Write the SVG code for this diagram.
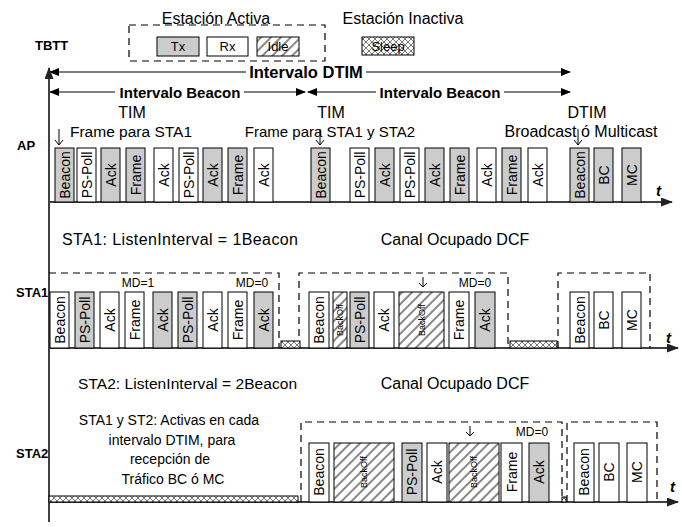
<svg xmlns="http://www.w3.org/2000/svg" width="682" height="527" viewBox="0 0 682 527">
<defs>
<style>
text{font-family:"Liberation Sans",Arial,sans-serif;fill:#000}
.lbl{font-size:15.5px}
.sm{font-size:13px}
.md{font-size:12px;text-anchor:middle}
.bd{font-weight:bold}
.rt{font-size:14px;text-anchor:middle}
.rs{font-size:9px;text-anchor:middle}
.mid{text-anchor:middle}
.bx{stroke:#000;stroke-width:1}
.g{fill:#cccccc}
.w{fill:#fff}
.h{fill:url(#hatch)}
.s{fill:url(#xh)}
.dash{fill:none;stroke:#000;stroke-width:1.2;stroke-dasharray:7 5}
.axis{stroke:#404040;stroke-width:2;fill:none}
.arr{stroke:#000;stroke-width:1.2;fill:none}
.dn{stroke:#000;stroke-width:1;fill:none}
.tt{font-size:15px;font-weight:bold;font-style:italic}
.par{font-size:14px;text-anchor:middle}
</style>
<pattern id="hatch" width="7" height="7" patternUnits="userSpaceOnUse" patternTransform="rotate(45)">
<rect width="7" height="7" fill="#fff"/>
<line x1="1" y1="0" x2="1" y2="7" stroke="#6a6a6a" stroke-width="1.6"/>
</pattern>
<pattern id="xh" width="6" height="6" patternUnits="userSpaceOnUse">
<rect width="6" height="6" fill="#fff"/>
<path d="M0,0 L6,6 M6,0 L0,6" stroke="#555" stroke-width="0.8"/>
</pattern>
<marker id="ah" markerWidth="10" markerHeight="8" refX="9" refY="4" orient="auto-start-reverse" markerUnits="userSpaceOnUse">
<path d="M0,0 L10,4 L0,8 z" fill="#000"/>
</marker>
<marker id="ax" markerWidth="12" markerHeight="9" refX="11" refY="4.5" orient="auto" markerUnits="userSpaceOnUse">
<path d="M0,0 L12,4.5 L0,9 z" fill="#222"/>
</marker>
</defs>
<rect width="682" height="527" fill="#fff"/>

<!-- Legend -->
<g id="legend">
<text class="mid" x="216" y="24" style="font-size:16px">Estación Activa</text>
<text class="mid" x="403" y="24" style="font-size:16px">Estación Inactiva</text>
<rect class="dash" x="129" y="25" width="196" height="36"/>
<rect class="bx g" x="157" y="37" width="42" height="19"/>
<text class="sm mid" x="178" y="51">Tx</text>
<rect class="bx w" x="207" y="37" width="41" height="19"/>
<text class="sm mid" x="227.5" y="51">Rx</text>
<rect class="bx h" x="257" y="37" width="42" height="19"/>
<text class="sm mid" x="278" y="51">Idle</text>
<rect class="bx s" x="362" y="37" width="52" height="18"/>
<text class="sm mid" x="388" y="51">Sleep</text>
<text class="bd" x="35" y="50" style="font-size:13px">TBTT</text>
</g>

<!-- Interval arrows -->
<g id="intervals">
<path class="arr" d="M50,72 H246" marker-start="url(#ah)"/>
<path class="arr" d="M366,72 H570" marker-end="url(#ah)"/>
<text class="bd mid" x="306" y="78" style="font-size:16.5px">Intervalo DTIM</text>
<path class="arr" d="M50,92 H115" marker-start="url(#ah)"/>
<path class="arr" d="M244,92 H305" marker-end="url(#ah)"/>
<text class="bd mid" x="180" y="98" style="font-size:15px">Intervalo Beacon</text>
<path class="arr" d="M308,92 H376" marker-start="url(#ah)"/>
<path class="arr" d="M504,92 H570" marker-end="url(#ah)"/>
<text class="bd mid" x="440" y="98" style="font-size:15px">Intervalo Beacon</text>
</g>

<!-- Axes -->
<g id="axes">
<path class="axis" d="M49,522 V68" marker-end="url(#ax)"/>
<path class="axis" d="M49,202 H672" marker-end="url(#ax)"/>
<path class="axis" d="M49,348 H678" marker-end="url(#ax)"/>
<path class="axis" d="M49,502 H678" marker-end="url(#ax)"/>
<text class="tt" x="656" y="196">t</text>
<text class="tt" x="666" y="343">t</text>
<text class="tt" x="670" y="492">t</text>
</g>

<!-- AP row -->
<g id="ap">
<text class="bd" x="17" y="150" style="font-size:13px">AP</text>
<text class="mid" x="132" y="118" style="font-size:16px">TIM</text>
<text class="lbl mid" x="131" y="137">Frame para STA1</text>
<path class="dn" d="M59,129 V145 M55,140 L59,145 L63,140"/>
<text class="mid" x="331" y="118" style="font-size:16px">TIM</text>
<text class="mid" x="330" y="137" style="font-size:15px">Frame para STA1 y STA2</text>
<path class="dn" d="M320,129 V145 M316,140 L320,145 L324,140"/>
<text class="mid" x="587" y="118" style="font-size:16px">DTIM</text>
<text class="mid" x="581" y="137" style="font-size:16px">Broadcast ó Multicast</text>
<path class="dn" d="M578,129 V145 M574,140 L578,145 L582,140"/>

<rect class="bx g" x="55" y="148" width="19" height="54"/><text class="rt" transform="translate(64.5,175) rotate(-90)" dy="5">Beacon</text>
<rect class="bx w" x="77" y="148" width="19" height="54"/><text class="rt" transform="translate(86.5,175) rotate(-90)" dy="5">PS-Poll</text>
<rect class="bx g" x="101" y="148" width="19" height="54"/><text class="rt" transform="translate(110.5,175) rotate(-90)" dy="5">Ack</text>
<rect class="bx g" x="126" y="148" width="19" height="54"/><text class="rt" transform="translate(135.5,175) rotate(-90)" dy="5">Frame</text>
<rect class="bx w" x="154" y="148" width="19" height="54"/><text class="rt" transform="translate(163.5,175) rotate(-90)" dy="5">Ack</text>
<rect class="bx w" x="179" y="148" width="19" height="54"/><text class="rt" transform="translate(188.5,175) rotate(-90)" dy="5">PS-Poll</text>
<rect class="bx g" x="203" y="148" width="19" height="54"/><text class="rt" transform="translate(212.5,175) rotate(-90)" dy="5">Ack</text>
<rect class="bx g" x="228" y="148" width="19" height="54"/><text class="rt" transform="translate(237.5,175) rotate(-90)" dy="5">Frame</text>
<rect class="bx w" x="254" y="148" width="19" height="54"/><text class="rt" transform="translate(263.5,175) rotate(-90)" dy="5">Ack</text>
<rect class="bx g" x="311" y="148" width="19" height="54"/><text class="rt" transform="translate(320.5,175) rotate(-90)" dy="5">Beacon</text>
<rect class="bx w" x="350" y="148" width="19" height="54"/><text class="rt" transform="translate(359.5,175) rotate(-90)" dy="5">PS-Poll</text>
<rect class="bx g" x="375" y="148" width="19" height="54"/><text class="rt" transform="translate(384.5,175) rotate(-90)" dy="5">Ack</text>
<rect class="bx w" x="400" y="148" width="19" height="54"/><text class="rt" transform="translate(409.5,175) rotate(-90)" dy="5">PS-Poll</text>
<rect class="bx g" x="425" y="148" width="19" height="54"/><text class="rt" transform="translate(434.5,175) rotate(-90)" dy="5">Ack</text>
<rect class="bx g" x="450" y="148" width="19" height="54"/><text class="rt" transform="translate(459.5,175) rotate(-90)" dy="5">Frame</text>
<rect class="bx w" x="477" y="148" width="19" height="54"/><text class="rt" transform="translate(486.5,175) rotate(-90)" dy="5">Ack</text>
<rect class="bx g" x="502" y="148" width="19" height="54"/><text class="rt" transform="translate(511.5,175) rotate(-90)" dy="5">Frame</text>
<rect class="bx w" x="528" y="148" width="19" height="54"/><text class="rt" transform="translate(537.5,175) rotate(-90)" dy="5">Ack</text>
<rect class="bx g" x="570" y="148" width="19" height="54"/><text class="rt" transform="translate(579.5,175) rotate(-90)" dy="5">Beacon</text>
<rect class="bx g" x="594" y="148" width="19" height="54"/><text class="rt" transform="translate(603.5,175) rotate(-90)" dy="5">BC</text>
<rect class="bx g" x="622" y="148" width="19" height="54"/><text class="rt" transform="translate(631.5,175) rotate(-90)" dy="5">MC</text>
</g>

<!-- STA1 row -->
<g id="sta1">
<text x="62" y="245" style="font-size:16px" textLength="236" lengthAdjust="spacing">STA1: ListenInterval = 1Beacon</text>
<text class="mid" x="455" y="245" style="font-size:16px">Canal Ocupado DCF</text>
<text class="bd" x="16" y="297" style="font-size:13px">STA1</text>
<path class="dash" d="M49,273 H279 V348"/>
<path class="dash" d="M299,348 V273 H508 V348"/>
<path class="dash" d="M558,348 V273 H650 V348"/>
<text class="md" x="138" y="287">MD=1</text>
<text class="md" x="252" y="287">MD=0</text>
<text class="md" x="475" y="287">MD=0</text>
<path class="dn" d="M423,277 V287 M419,283 L423,287 L427,283"/>

<rect class="bx w" x="50" y="292" width="19" height="56"/><text class="rt" transform="translate(59.5,320) rotate(-90)" dy="5">Beacon</text>
<rect class="bx g" x="75" y="292" width="19" height="56"/><text class="rt" transform="translate(84.5,320) rotate(-90)" dy="5">PS-Poll</text>
<rect class="bx w" x="100" y="292" width="19" height="56"/><text class="rt" transform="translate(109.5,320) rotate(-90)" dy="5">Ack</text>
<rect class="bx w" x="125" y="292" width="19" height="56"/><text class="rt" transform="translate(134.5,320) rotate(-90)" dy="5">Frame</text>
<rect class="bx g" x="153" y="292" width="19" height="56"/><text class="rt" transform="translate(162.5,320) rotate(-90)" dy="5">Ack</text>
<rect class="bx g" x="178" y="292" width="19" height="56"/><text class="rt" transform="translate(187.5,320) rotate(-90)" dy="5">PS-Poll</text>
<rect class="bx w" x="203" y="292" width="19" height="56"/><text class="rt" transform="translate(212.5,320) rotate(-90)" dy="5">Ack</text>
<rect class="bx w" x="228" y="292" width="19" height="56"/><text class="rt" transform="translate(237.5,320) rotate(-90)" dy="5">Frame</text>
<rect class="bx g" x="254" y="292" width="19" height="56"/><text class="rt" transform="translate(263.5,320) rotate(-90)" dy="5">Ack</text>
<rect class="bx s" x="281" y="341" width="19" height="7"/>
<rect class="bx w" x="309" y="292" width="20" height="56"/><text class="rt" transform="translate(319,320) rotate(-90)" dy="5">Beacon</text>
<rect class="bx h" x="333" y="292" width="14" height="56"/><text class="rs" transform="translate(340,320) rotate(-90)" dy="3">BackOff</text>
<rect class="bx g" x="350" y="292" width="19" height="56"/><text class="rt" transform="translate(359.5,320) rotate(-90)" dy="5">PS-Poll</text>
<rect class="bx w" x="374" y="292" width="20" height="56"/><text class="rt" transform="translate(384,320) rotate(-90)" dy="5">Ack</text>
<rect class="bx h" x="399" y="292" width="45" height="56"/><text class="rs" transform="translate(421.5,320) rotate(-90)" dy="3">BackOff</text>
<rect class="bx w" x="449" y="292" width="20" height="56"/><text class="rt" transform="translate(459,320) rotate(-90)" dy="5">Frame</text>
<rect class="bx g" x="475" y="292" width="20" height="56"/><text class="rt" transform="translate(485,320) rotate(-90)" dy="5">Ack</text>
<rect class="bx s" x="510" y="341" width="47" height="7"/>
<rect class="bx w" x="570" y="292" width="19" height="56"/><text class="rt" transform="translate(579.5,320) rotate(-90)" dy="5">Beacon</text>
<rect class="bx w" x="594" y="292" width="19" height="56"/><text class="rt" transform="translate(603.5,320) rotate(-90)" dy="5">BC</text>
<rect class="bx w" x="622" y="292" width="19" height="56"/><text class="rt" transform="translate(631.5,320) rotate(-90)" dy="5">MC</text>
</g>

<!-- STA2 row -->
<g id="sta2">
<text x="78" y="389" style="font-size:15.5px" textLength="219" lengthAdjust="spacing">STA2: ListenInterval = 2Beacon</text>
<text class="mid" x="455" y="389" style="font-size:16px">Canal Ocupado DCF</text>
<text class="bd" x="16" y="458" style="font-size:13px">STA2</text>
<text class="par" x="169" y="425">STA1 y ST2: Activas en cada</text>
<text class="par" x="172" y="445">intervalo DTIM, para</text>
<text class="par" x="170" y="464">recepción de</text>
<text class="par" x="173" y="484">Tráfico BC ó MC</text>
<rect class="bx s" x="49" y="496" width="249" height="6"/>
<path class="dash" d="M301,502 V422 H562 V502"/>
<path class="dash" d="M567,502 V422 H657 V502"/>
<path class="dn" d="M470,426 V436 M466,432 L470,436 L474,432"/>
<text class="md" x="532" y="436">MD=0</text>

<rect class="bx w" x="309" y="443" width="20" height="59"/><text class="rt" transform="translate(319,472) rotate(-90)" dy="5">Beacon</text>
<rect class="bx h" x="334" y="443" width="60" height="59"/><text class="rs" transform="translate(364,472) rotate(-90)" dy="3">BackOff</text>
<rect class="bx g" x="402" y="443" width="20" height="59"/><text class="rt" transform="translate(412,472) rotate(-90)" dy="5">PS-Poll</text>
<rect class="bx w" x="427" y="443" width="20" height="59"/><text class="rt" transform="translate(437,472) rotate(-90)" dy="5">Ack</text>
<rect class="bx h" x="449" y="443" width="50" height="59"/><text class="rs" transform="translate(474,472) rotate(-90)" dy="3">BackOff</text>
<rect class="bx w" x="501" y="443" width="21" height="59"/><text class="rt" transform="translate(511.5,472) rotate(-90)" dy="5">Frame</text>
<rect class="bx g" x="529" y="443" width="20" height="59"/><text class="rt" transform="translate(539,472) rotate(-90)" dy="5">Ack</text>
<rect class="bx s" x="562" y="497" width="4" height="5"/>
<rect class="bx w" x="574" y="443" width="20" height="59"/><text class="rt" transform="translate(584,472) rotate(-90)" dy="5">Beacon</text>
<rect class="bx w" x="599" y="443" width="20" height="59"/><text class="rt" transform="translate(609,472) rotate(-90)" dy="5">BC</text>
<rect class="bx w" x="627" y="443" width="20" height="59"/><text class="rt" transform="translate(637,472) rotate(-90)" dy="5">MC</text>
</g>
</svg>
